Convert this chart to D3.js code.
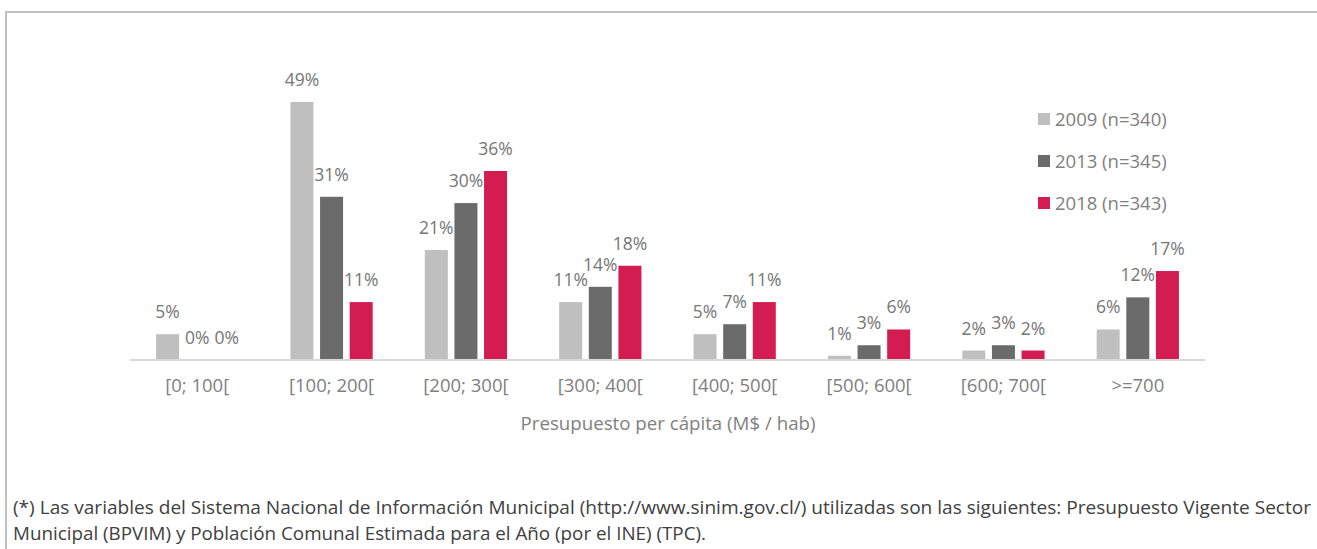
<!DOCTYPE html>
<html>
<head>
<meta charset="utf-8">
<script src="https://cdn.jsdelivr.net/npm/d3@7"></script>
<style>
  html, body { margin: 0; padding: 0; background: #fff; }
  svg { display: block; font-family: "Open Sans", sans-serif; }
</style>
</head>
<body>
<svg id="chart" width="1317" height="549"></svg>
<script>
// ---- data ----
const categories = ["[0; 100[", "[100; 200[", "[200; 300[", "[300; 400[", "[400; 500[", "[500; 600[", "[600; 700[", ">=700"];
const seriesNames = ["2009 (n=340)", "2013 (n=345)", "2018 (n=343)"];
const values2009 = [4.9, 49, 20.9, 11, 4.9, 0.8, 1.8, 5.8];
const values2013 = [0, 31, 29.8, 13.9, 6.8, 2.8, 2.8, 11.9];
const values2018 = [0, 11, 35.9, 17.9, 11, 5.8, 1.8, 16.9];
const seriesColors = ["#bfbfbf", "#6b6b6b", "#d31c52"];
const xTitle = "Presupuesto per cápita (M$ / hab)";
const footLine1 = "(*) Las variables del Sistema Nacional de Información Municipal (http://www.sinim.gov.cl/) utilizadas son las siguientes: Presupuesto Vigente Sector";
const footLine2 = "Municipal (BPVIM) y Población Comunal Estimada para el Año (por el INE) (TPC).";

const seriesValues = [values2009, values2013, values2018];

const svg = d3.select("#chart");

// border (top + left)
svg.append("path")
  .attr("d", "M6,560 L6,12 L1320,12")
  .attr("fill", "none")
  .attr("stroke", "#bfbfbf")
  .attr("stroke-width", 2);

const baseY = 360;
const x0 = d3.scaleBand().domain(categories).range([130, 1205]).paddingInner(0.388).paddingOuter(0.194);
const x1 = d3.scaleBand().domain(seriesNames).range([0, x0.bandwidth()]).paddingInner(0.223).paddingOuter(0);
const y = d3.scaleLinear().domain([0, 60]).range([baseY, baseY - 60 * 5.265]);

// bars
const groups = svg.append("g").selectAll("g")
  .data(categories)
  .join("g")
  .attr("transform", d => `translate(${x0(d)},0)`);

groups.selectAll("rect")
  .data((c, i) => seriesNames.map((s, j) => ({ s, j, v: seriesValues[j][i] })))
  .join("rect")
  .attr("x", d => x1(d.s))
  .attr("width", x1.bandwidth())
  .attr("y", d => y(d.v))
  .attr("height", d => baseY - y(d.v))
  .attr("fill", d => seriesColors[d.j]);

groups.selectAll("text")
  .data((c, i) => seriesNames.map((s, j) => ({ s, j, v: seriesValues[j][i] })))
  .join("text")
  .attr("x", d => x1(d.s) + x1.bandwidth() / 2)
  .attr("y", d => y(d.v) - 16)
  .attr("text-anchor", "middle")
  .attr("font-size", 17.5)
  .attr("fill", "#767676")
  .text(d => Math.round(d.v) + "%");

// x axis
const xAxis = svg.append("g")
  .attr("transform", `translate(0,${baseY})`)
  .call(d3.axisBottom(x0).tickSize(0).tickPadding(0));
xAxis.select(".domain").attr("stroke", "#d9d9d9").attr("stroke-width", 2)
  .attr("d", "M130,0H1205");
xAxis.selectAll(".tick text")
  .attr("dy", 0)
  .attr("y", 32)
  .attr("font-family", "Open Sans, sans-serif")
  .attr("font-size", 18.5)
  .attr("fill", "#7f7f7f");

svg.append("text")
  .attr("x", 668).attr("y", 430)
  .attr("text-anchor", "middle")
  .attr("font-size", 18.7)
  .attr("fill", "#7f7f7f")
  .text(xTitle);

// legend
const leg = svg.append("g").selectAll("g")
  .data(seriesNames)
  .join("g")
  .attr("transform", (d, i) => `translate(1038,${119 + i * 42})`);
leg.append("rect").attr("x", 0).attr("y", -6).attr("width", 12).attr("height", 12)
  .attr("fill", (d, i) => seriesColors[i]);
leg.append("text").attr("x", 17).attr("y", 6.5)
  .attr("font-size", 18.5).attr("fill", "#7f7f7f")
  .text(d => d);

// footnote
svg.append("text")
  .attr("x", 13).attr("y", 514)
  .attr("font-size", 18.5).attr("fill", "#404040")
  .attr("textLength", 1298).attr("lengthAdjust", "spacingAndGlyphs")
  .text(footLine1);
svg.append("text")
  .attr("x", 13).attr("y", 540)
  .attr("font-size", 18.5).attr("fill", "#404040")
  .attr("textLength", 693).attr("lengthAdjust", "spacingAndGlyphs")
  .text(footLine2);
</script>
</body>
</html>
